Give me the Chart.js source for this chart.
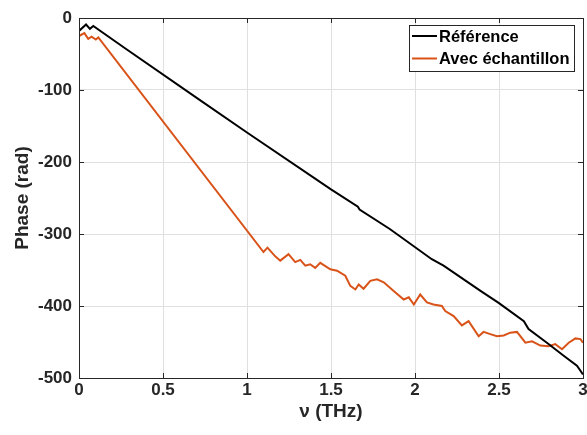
<!DOCTYPE html>
<html>
<head>
<meta charset="utf-8">
<script src="https://cdn.jsdelivr.net/npm/chart.js@4.4.1/dist/chart.umd.min.js"></script>
<style>
  html, body { margin: 0; padding: 0; background: #fff; }
  #wrap { position: relative; width: 587px; height: 435px; }
</style>
</head>
<body>
<div id="wrap"><canvas id="phase-chart"></canvas></div>
<script>
// Référence
const refFreq = [0, 0.042, 0.065, 0.085, 0.274, 0.72, 1.0, 1.5, 1.66, 1.67, 1.85, 2.1, 2.17, 2.39, 2.5, 2.648, 2.676, 2.785, 2.885, 2.964, 3.0];
const refPhase = [-18, -9, -15, -11, -42, -114, -159, -238, -262, -266, -293, -335, -344, -379, -396, -421, -432, -451, -469, -483, -495];

// Avec échantillon
const echFreq = [0, 0.032, 0.055, 0.075, 0.1, 0.115, 1.098, 1.122, 1.168, 1.198, 1.247, 1.287, 1.317, 1.347, 1.376, 1.406, 1.436, 1.496, 1.536, 1.585, 1.615, 1.645, 1.665, 1.694, 1.734, 1.774, 1.814, 1.873, 1.933, 1.963, 1.993, 2.031, 2.071, 2.11, 2.16, 2.18, 2.23, 2.279, 2.319, 2.379, 2.408, 2.448, 2.488, 2.528, 2.567, 2.607, 2.657, 2.697, 2.746, 2.795, 2.835, 2.875, 2.915, 2.955, 2.985, 3.0];
const echPhase = [-25, -21, -29, -26, -30, -27, -325, -319, -331, -337, -328, -339, -336, -344, -342, -347, -340, -349, -351, -358, -372, -377, -370, -376, -365, -363, -367, -379, -391, -388, -398, -384, -395, -398, -400, -407, -414, -427, -421, -442, -436, -439, -442, -441, -437, -436, -451, -449, -455, -456, -453, -460, -451, -445, -446, -451];

const xTicks = [0, 0.5, 1, 1.5, 2, 2.5, 3];
const yTicks = [0, -100, -200, -300, -400, -500];
const seriesNames = ["Référence", "Avec échantillon"];
const seriesColors = ["#000000", "#D95319"];

const FONT = "'Liberation Sans', Arial, Helvetica, sans-serif";
const AXIS = "#262626";

function toPoints(xs, ys) {
  return xs.map((x, i) => ({ x: x, y: ys[i] }));
}

// cadre + graduations internes + légende (style MATLAB)
const boxPlugin = {
  id: "boxPlugin",
  afterDraw(chart) {
    const { ctx, chartArea: a, scales } = chart;
    ctx.save();
    ctx.strokeStyle = AXIS;
    ctx.lineWidth = 1;
    ctx.beginPath();
    xTicks.forEach((v) => {
      const px = Math.round(scales.x.getPixelForValue(v)) + 0.5;
      ctx.moveTo(px, a.bottom); ctx.lineTo(px, a.bottom - 5);
      ctx.moveTo(px, a.top); ctx.lineTo(px, a.top + 5);
    });
    yTicks.forEach((v) => {
      const py = Math.round(scales.y.getPixelForValue(v)) + 0.5;
      ctx.moveTo(a.left, py); ctx.lineTo(a.left + 5, py);
      ctx.moveTo(a.right, py); ctx.lineTo(a.right - 5, py);
    });
    ctx.stroke();
    ctx.strokeRect(Math.round(a.left) + 0.5, Math.round(a.top) + 0.5, Math.round(a.right - a.left), Math.round(a.bottom - a.top));

    // légende
    const lx = 409.5, ly = 25.5, lw = 165, lh = 46;
    ctx.fillStyle = "#fff";
    ctx.fillRect(lx, ly, lw, lh);
    ctx.strokeStyle = AXIS;
    ctx.strokeRect(lx, ly, lw, lh);
    ctx.font = "bold 16.5px " + FONT;
    ctx.textBaseline = "middle";
    seriesNames.forEach((name, i) => {
      const y = 36 + i * 22.5;
      ctx.strokeStyle = seriesColors[i];
      ctx.lineWidth = 2;
      ctx.beginPath();
      ctx.moveTo(412, y); ctx.lineTo(437, y);
      ctx.stroke();
      ctx.fillStyle = "#000";
      ctx.fillText(name, 439, y + 1);
    });
    ctx.restore();
  },
};

const canvas = document.getElementById("phase-chart");

new Chart(canvas, {
  type: "line",
  data: {
    datasets: [
      {
        label: seriesNames[0],
        data: toPoints(refFreq, refPhase),
        borderColor: seriesColors[0],
        borderWidth: 2,
        pointRadius: 0,
        tension: 0,
        order: 1,
      },
      {
        label: seriesNames[1],
        data: toPoints(echFreq, echPhase),
        borderColor: seriesColors[1],
        borderWidth: 2,
        pointRadius: 0,
        tension: 0,
        order: 2,
      },
    ],
  },
  options: {
    responsive: true,
    maintainAspectRatio: false,
    animation: false,
    layout: { padding: { top: 18, right: 4, left: 7, bottom: 8 } },
    plugins: {
      legend: { display: false },
      tooltip: { enabled: false },
    },
    scales: {
      x: {
        type: "linear",
        min: 0,
        max: 3,
        afterBuildTicks(scale) {
          scale.ticks = xTicks.map((v) => ({ value: v }));
        },
        afterFit(scale) {
          scale.height = 49;
          scale.paddingLeft = 0;
          scale.paddingRight = 0;
        },
        grid: { color: "#e0e0e0", drawTicks: false },
        border: { display: false },
        ticks: {
          padding: 2,
          color: AXIS,
          font: { family: FONT, size: 17, weight: "bold" },
          maxRotation: 0,
          callback: (v) => String(v),
        },
        title: {
          display: true,
          text: "ν (THz)",
          color: AXIS,
          padding: { top: 0 },
          font: { family: FONT, size: 19, weight: "bold" },
        },
      },
      y: {
        type: "linear",
        min: -500,
        max: 0,
        afterBuildTicks(scale) {
          scale.ticks = yTicks.map((v) => ({ value: v }));
        },
        afterFit(scale) {
          scale.width = 72;
          scale.paddingTop = 0;
          scale.paddingBottom = 0;
        },
        grid: { color: "#e0e0e0", drawTicks: false },
        border: { display: false },
        ticks: {
          padding: 7,
          color: AXIS,
          font: { family: FONT, size: 17, weight: "bold" },
          callback: (v) => String(v),
        },
        title: {
          display: true,
          text: "Phase (rad)",
          color: AXIS,
          padding: { bottom: 0 },
          font: { family: FONT, size: 19, weight: "bold" },
        },
      },
    },
  },
  plugins: [boxPlugin],
});
</script>
</body>
</html>
